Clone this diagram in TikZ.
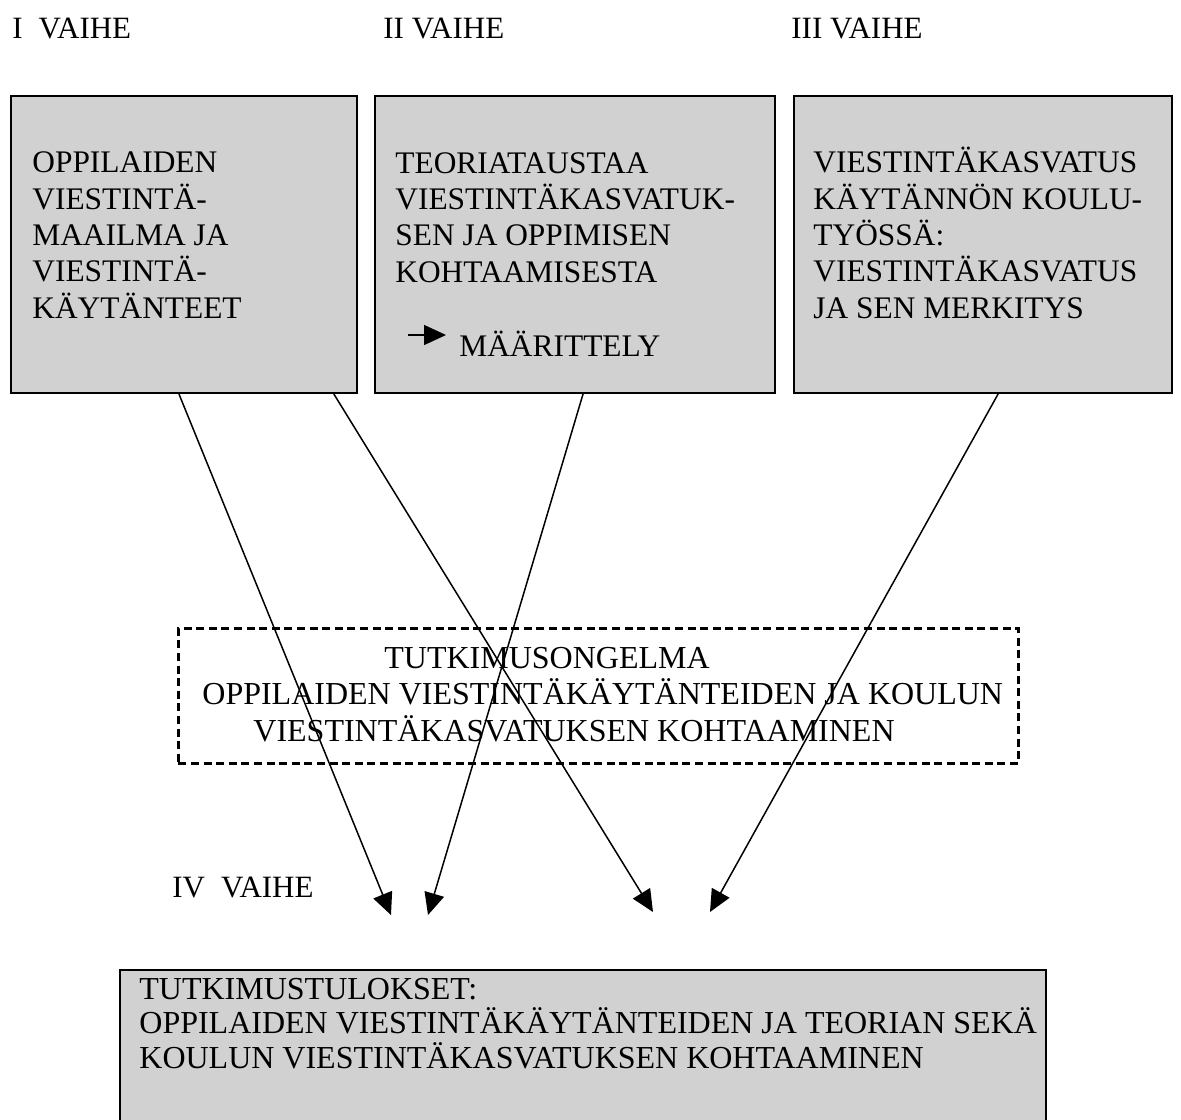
\documentclass[tikz,border=0pt]{standalone}
\usepackage{fontspec}
\setmainfont{Liberation Serif}
\usetikzlibrary{arrows.meta,calc}
\begin{document}
\begin{tikzpicture}[x=0.5pt,y=-0.5pt,
  box/.style={draw,line width=1pt,fill=black!18,inner sep=0,anchor=north west},
  dbox/.style={draw,line width=1.3pt,dash pattern=on 4pt off 2.3pt,inner sep=0,anchor=north west},
  boxtext/.style={anchor=base west,inner sep=0,align=left,font=\fontsize{15.7}{18.15}\selectfont},
  bigtext/.style={anchor=base west,inner sep=0,align=left,font=\fontsize{16}{18.25}\selectfont},
  phase/.style={anchor=base west,inner sep=0,font=\fontsize{15.5}{18}\selectfont},
  conn/.style={line width=0.75pt,-{Triangle[length=11pt,width=10pt]}}]
\useasboundingbox (0,0) rectangle (1181,1119);

% phase labels
\node[phase] (p1) at (12,38) {I\hspace{8pt}VAIHE};
\node[phase] (p2) at (383,38) {II VAIHE};
\node[phase] (p3) at (791,38) {III VAIHE};
\node[phase] (p4) at (172,897) {IV\hspace{8pt}VAIHE};

% top boxes
\node[box,minimum width=173pt,minimum height=148.5pt] (b1) at (10,95) {};
\node[box,minimum width=200pt,minimum height=148.5pt] (b2) at (374,95) {};
\node[box,minimum width=189pt,minimum height=148.5pt] (b3) at (793,95) {};

% (base anchor of a multi-line node = baseline of its last line)
\node[boxtext] (t1) at (32,318) {OPPILAIDEN\\VIESTINTÄ-\\MAAILMA JA\\VIESTINTÄ-\\KÄYTÄNTEET};
\node[boxtext] (t2) at (395,282) {TEORIATAUSTAA\\VIESTINTÄKASVATUK-\\SEN JA OPPIMISEN\\KOHTAAMISESTA};
\node[boxtext] (t2b) at (459,356) {MÄÄRITTELY};
\coordinate (ma) at (408,335);
\coordinate (mb) at (446,335);
\draw[line width=0.7pt,-{Triangle[length=11pt,width=10pt]}] (ma) -- (mb);
\node[boxtext] (t3) at (813,318) {VIESTINTÄKASVATUS\\KÄYTÄNNÖN KOULU-\\TYÖSSÄ:\\VIESTINTÄKASVATUS\\JA SEN MERKITYS};

% research problem (dashed)
\node[dbox,minimum width=420pt,minimum height=67.5pt] (d) at (177,627) {};
\node[bigtext] (td) at (202,741) {\hspace*{91pt}TUTKIMUSONGELMA\\OPPILAIDEN VIESTINTÄKÄYTÄNTEIDEN JA KOULUN\\\hspace*{25.5pt}VIESTINTÄKASVATUKSEN KOHTAAMINEN};

% results box
\node[box,minimum width=463pt,minimum height=85.5pt] (b4) at (119,969) {};
\node[bigtext,font=\fontsize{16}{17.25}\selectfont] (t4) at (139,1068) {TUTKIMUSTULOKSET:\\OPPILAIDEN VIESTINTÄKÄYTÄNTEIDEN JA TEORIAN SEKÄ\\KOULUN VIESTINTÄKASVATUKSEN KOHTAAMINEN};

% arrow tips
\coordinate (e1) at (391,915);
\coordinate (e2) at (428,915);
\coordinate (e3) at (653,912);
\coordinate (e4) at (710,912);

\draw[conn] ($(b1.south west)!0.4855!(b1.south east)$) -- (e1);
\draw[conn] ($(b2.south west)!0.52!(b2.south east)$) -- (e2);
\draw[conn] ($(b1.south west)!0.9306!(b1.south east)$) -- (e3);
\draw[conn] ($(b3.south west)!0.5397!(b3.south east)$) -- (e4);
\end{tikzpicture}
\end{document}
